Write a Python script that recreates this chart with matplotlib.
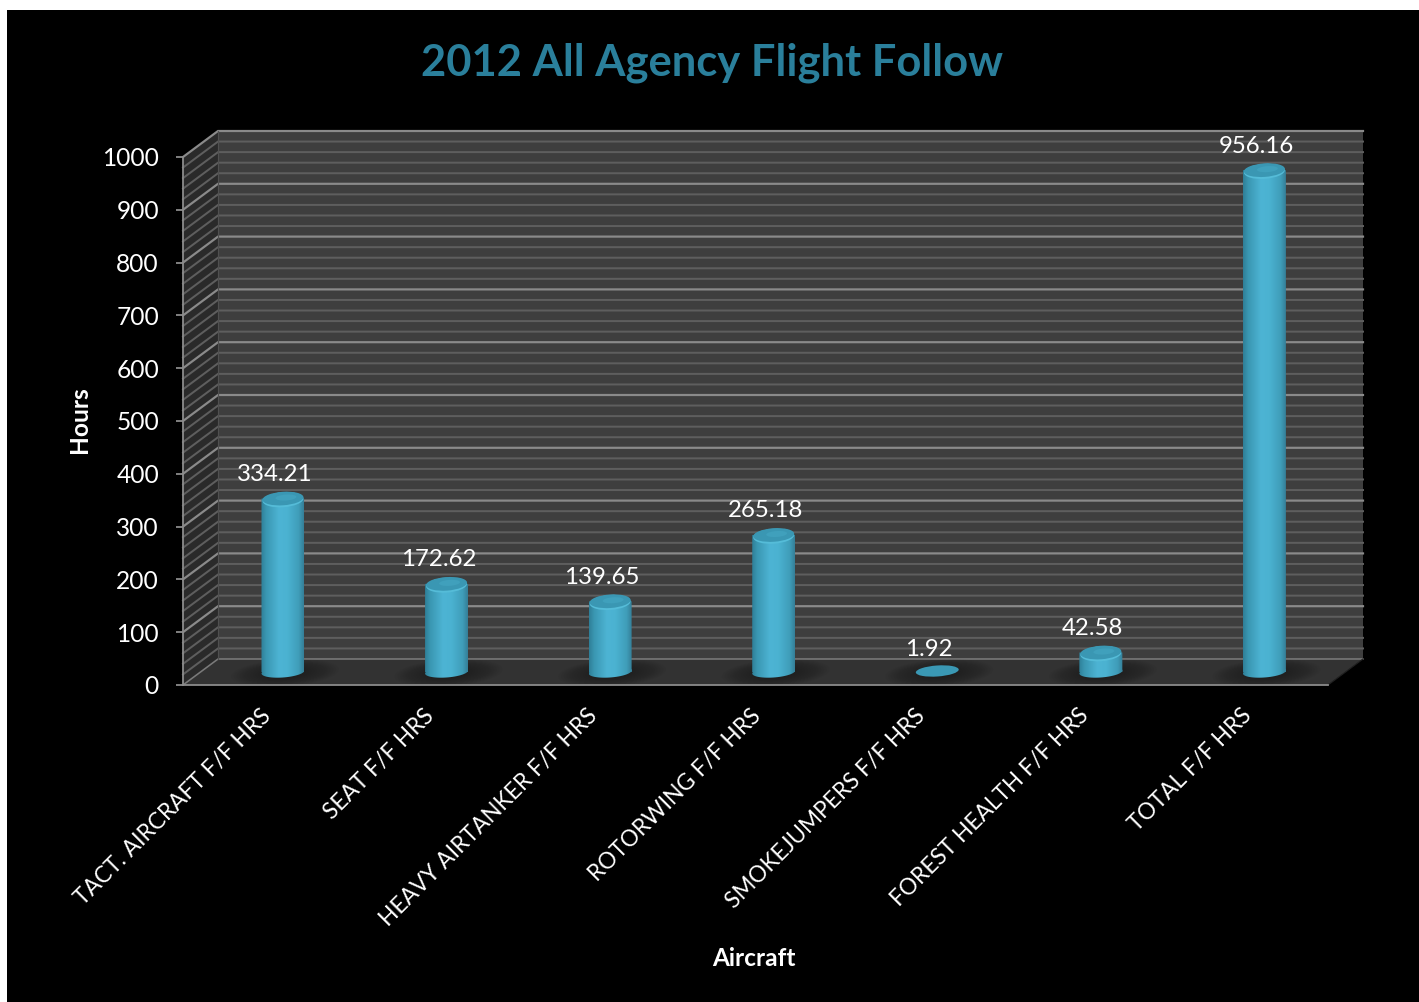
import numpy as np
import matplotlib
matplotlib.use("Agg")
import matplotlib.pyplot as plt
from matplotlib.collections import EllipseCollection
from matplotlib.colors import LinearSegmentedColormap
from matplotlib.patches import Polygon, Rectangle
from matplotlib.path import Path
from matplotlib.transforms import IdentityTransform, ScaledTranslation

categories = ["TACT. AIRCRAFT F/F HRS", "SEAT F/F HRS", "HEAVY AIRTANKER F/F HRS",
              "ROTORWING F/F HRS", "SMOKEJUMPERS F/F HRS", "FOREST HEALTH F/F HRS",
              "TOTAL F/F HRS"]
hours = [334.21, 172.62, 139.65, 265.18, 1.92, 42.58, 956.16]
labels = ["334.21", "172.62", "139.65", "265.18", "1.92", "42.58", "956.16"]
major_ticks = list(range(0, 1001, 100))
minor_ticks = [v for v in range(0, 1001, 20) if v % 100]

W, H = 1419, 1002
plt.rcParams["font.family"] = ["Lato", "DejaVu Sans"]
fig = plt.figure(figsize=(W / 72, H / 72), dpi=72, facecolor="white")
fig.patches.append(Rectangle((7 / W, 0), 1 - 7 / W, 1 - 10 / H, transform=fig.transFigure,
                             facecolor="black", edgecolor="none", zorder=-10))
ax = fig.add_axes([183 / W, (H - 685) / H, 1145 / W, 528 / H], facecolor="none")
ax.set_xlim(0, 7)
ax.set_ylim(0, 1000)
px, py = 7 / 1145, 1000 / 528          # data units per pixel
DX, DY = 35 * px, 26 * py              # chart depth

# walls and floor
ax.add_patch(Rectangle((DX, DY), 7, 1000, fc="#3e3e3e", ec="none", zorder=1, clip_on=False))
ax.add_patch(Polygon([(0, 0), (DX, DY), (DX, 1000 + DY), (0, 1000)], fc="#2a2a2a", ec="none", zorder=1, clip_on=False))
ax.add_patch(Polygon([(0, 0), (7, 0), (7 + DX, DY), (DX, DY)], fc="#323232", ec="none", zorder=1, clip_on=False))

def grid(vals, color, lw):
    for v in vals:
        ax.plot([0, DX, 7 + DX], [v, v + DY, v + DY], color=color, lw=lw, zorder=2,
                clip_on=False, solid_joinstyle="miter")
grid(minor_ticks, "#5e5e5e", 2.0)
grid(major_ticks[1:], "#8a8a8a", 2.2)
ax.plot([0, DX, 7 + DX], [0, DY, DY], color="#7a7a7a", lw=1.6, zorder=2, clip_on=False)
ax.plot([7 + DX, 7], [DY, 0], color="#202020", lw=1.2, zorder=2, clip_on=False)
ax.plot([DX, DX], [DY, 1000 + DY], color="#505050", lw=1.2, zorder=2, clip_on=False)

# cylinders
body = LinearSegmentedColormap.from_list("cyl", [(0, "#2f7f98"), (0.12, "#3a97b2"), (0.42, "#4db4d4"),
                                                 (0.62, "#4bb2d1"), (0.88, "#3f9db9"), (1, "#357f98")])
grad = np.linspace(0, 1, 128).reshape(1, -1)
bw, base_h, top_h = 43, 11, 15
xs = np.arange(len(hours)) + 0.5 + DX / 2 + 0.7 * px
y_top0 = 10 * py
y_base = 13 * py

def ell(x, y, w, h, color, z, alpha=1.0, angle=4):
    ax.add_collection(EllipseCollection([w], [h], [angle], units="points", offsets=[(x, y)],
                                        offset_transform=ax.transData, facecolors=color,
                                        edgecolors="none", alpha=alpha, zorder=z, clip_on=False))

for i, (x, v) in enumerate(zip(xs, hours)):
    # soft floor shadow
    for k in range(16):
        ell(x + 2 * px, y_base - 1 * py, 108 - 5.5 * k, 27 - 1.4 * k, "#161616", 3, alpha=0.055)
    if v < 5:
        ell(x, y_base + v, bw, base_h, "#3a98b4", 5)
        continue
    tx = ax.transData.transform([(x, y_top0 + v)])[0]
    b = ax.transData.transform([(x, y_base)])[0]
    t = np.linspace(0, 2 * np.pi, 60)
    ex = b[0] + bw / 2 * np.cos(t)
    ey = b[1] + base_h / 2 * np.sin(t) + 0.07 * bw / 2 * np.cos(t)
    rect = Path([(b[0] - bw / 2, b[1]), (b[0] + bw / 2, b[1]), (tx[0] + bw / 2, tx[1]),
                 (tx[0] - bw / 2, tx[1]), (b[0] - bw / 2, b[1])], closed=True)
    clip = Path.make_compound_path(rect, Path(np.column_stack([ex, ey]), closed=True))
    im = ax.imshow(grad, cmap=body, aspect="auto", zorder=4, interpolation="bilinear",
                   extent=(x - bw / 2 * px, x + bw / 2 * px, y_base - 8 * py, y_top0 + v))
    im.set_clip_path(clip, IdentityTransform())
    ell(x, y_top0 + v - 1.2 * py, bw - 2, top_h, "#55bcd8", 5)
    ell(x, y_top0 + v, bw - 2, top_h - 1.5, "#3a97b3", 6)
    ell(x + 3 * px, y_top0 + v + 1 * py, bw - 22, top_h - 9, "#40a0bc", 6)

ax.set_xlim(0, 7)
ax.set_ylim(0, 1000)

for x, v, s in zip(xs, hours, labels):
    ax.annotate(s, (x, y_top0 + v), xytext=(-8, 24), textcoords="offset points", ha="center", va="center",
                color="white", fontsize=24, zorder=8, annotation_clip=False)

for side in ("top", "right"):
    ax.spines[side].set_visible(False)
for side in ("left", "bottom"):
    ax.spines[side].set_color("#8c8c8c")
    ax.spines[side].set_linewidth(1.8)
    ax.spines[side].set_zorder(7)
ax.set_yticks(major_ticks)
ax.set_xticks(np.arange(len(categories)) + 0.5)
ax.set_xticklabels(categories, rotation=45, ha="right", va="top", rotation_mode="anchor")
ax.tick_params(axis="y", colors="white", labelsize=24.5, length=7, width=1.8, color="#8c8c8c", pad=17)
ax.tick_params(axis="x", colors="white", labelsize=22.6, length=0, pad=23)
shift = ScaledTranslation(-5 / 72, 3 / 72, fig.dpi_scale_trans)
for lab in ax.get_xticklabels():
    lab.set_transform(lab.get_transform() + shift)
ax.set_ylabel("Hours", color="white", fontsize=24.5, fontweight="bold", va="center")
ax.yaxis.set_label_coords((80 - 183) / 1145, (685 - 420) / 528)
ax.set_xlabel("Aircraft", color="white", fontsize=24.4, fontweight="bold", va="center")
ax.xaxis.set_label_coords((754 - 183) / 1145, (685 - 958) / 528)
fig.text(711.5 / W, 1 - 63 / H, "2012 All Agency Flight Follow", color="#2a7f9b", fontsize=43.5,
         fontweight="bold", ha="center", va="center")
fig.savefig("out.png", dpi=72, facecolor="white")
